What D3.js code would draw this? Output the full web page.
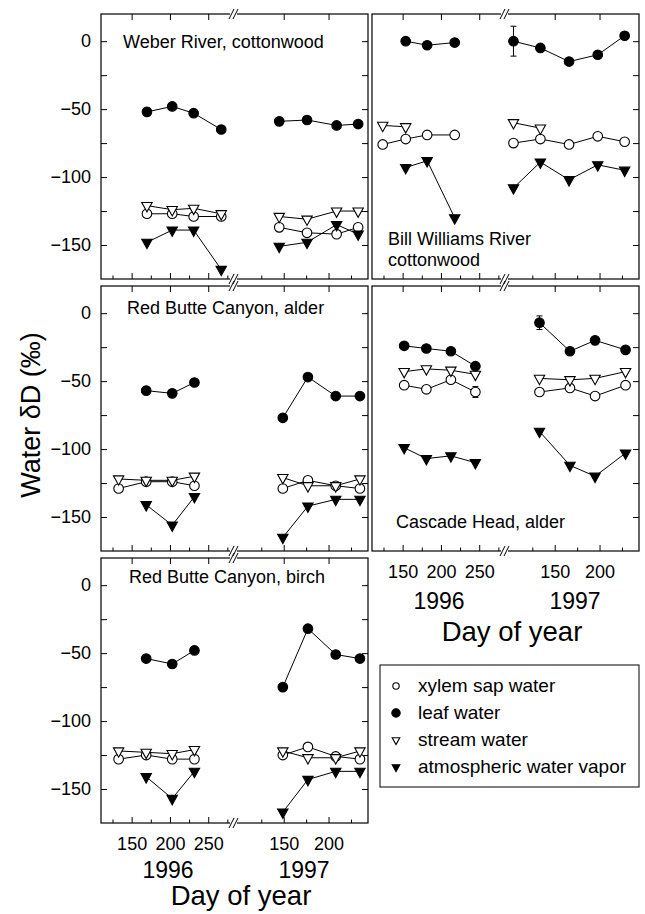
<!DOCTYPE html>
<html>
<head>
<meta charset="utf-8">
<script src="https://cdn.jsdelivr.net/npm/d3@7"></script>
<style>
  html, body { margin: 0; padding: 0; background: #fff; }
  svg { display: block; font-family: "Liberation Sans", Arial, Helvetica, sans-serif; }
</style>
</head>
<body>
<svg id="chart"></svg>
<script>
// water dD (per mil) by day of year
const seriesNames = ["xylem sap water", "leaf water", "stream water", "atmospheric water vapor"];
const yTicks = [0, -50, -100, -150];
const yMinor = [-25, -75, -125];
const xTicks96 = [150, 200, 250];
const xMinor96 = [125, 175, 225, 275];
const xTicks97 = [150, 200];
const xMinor97 = [125, 175, 225];
const yearLabels = ["1996", "1997"];

// Weber River, cottonwood
const weberDays96 = [170, 203, 231, 267];
const weberXylem96 = [-127, -127, -129, -129];
const weberLeaf96 = [-52, -48, -53, -65];
const weberStream96 = [-121, -124, -123, -127];
const weberVapor96 = [-148, -139, -139, -168];
const weberDays97 = [145, 176, 209, 233];
const weberXylem97 = [-137, -141, -142, -137];
const weberLeaf97 = [-59, -58, -62, -61];
const weberStream97 = [-129, -131, -125, -125];
const weberVapor97 = [-151, -148, -135, -142];

// Bill Williams River, cottonwood
const billDays96 = [124, 154, 182, 218];
const billXylem96 = [-76, -72, -69, -69];
const billLeaf96 = [null, 0, -3, -1];
const billStream96 = [-62, -63, null, null];
const billVapor96 = [null, -93, -88, -130];
const billDays97 = [104, 134, 166, 198, 228];
const billXylem97 = [-75, -72, -76, -70, -74];
const billLeaf97 = [0, -5, -15, -10, 4];
const billLeafErr97 = [11, null, null, null, null];
const billStream97 = [-60, -64, null, null, null];
const billVapor97 = [-108, -89, -102, -91, -95];

// Red Butte Canyon, alder
const alderDays96 = [133, 169, 203, 232];
const alderXylem96 = [-129, -124, -124, -127];
const alderLeaf96 = [null, -57, -59, -51];
const alderStream96 = [-122, -123, -123, -120];
const alderVapor96 = [null, -141, -156, -135];
const alderDays97 = [149, 177, 208, 235];
const alderXylem97 = [-129, -123, -127, -129];
const alderLeaf97 = [-77, -47, -61, -61];
const alderStream97 = [-121, -127, -127, -122];
const alderVapor97 = [-165, -142, -137, -137];

// Cascade Head, alder
const cascDays96 = [152, 181, 213, 245];
const cascXylem96 = [-53, -56, -49, -58];
const cascXylemErr96 = [null, null, null, 4];
const cascLeaf96 = [-24, -26, -28, -39];
const cascStream96 = [-43, -41, -42, -45];
const cascVapor96 = [-99, -107, -105, -110];
const cascDays97 = [133, 167, 195, 229];
const cascXylem97 = [-58, -55, -61, -53];
const cascLeaf97 = [-7, -28, -20, -27];
const cascLeafErr97 = [5, null, null, null];
const cascStream97 = [-48, -49, -48, -43];
const cascVapor97 = [-87, -112, -120, -103];

// Red Butte Canyon, birch
const birchDays96 = [133, 169, 203, 232];
const birchXylem96 = [-128, -125, -128, -128];
const birchLeaf96 = [null, -54, -58, -48];
const birchStream96 = [-122, -123, -124, -121];
const birchVapor96 = [null, -141, -157, -137];
const birchDays97 = [149, 177, 208, 235];
const birchXylem97 = [-125, -119, -126, -128];
const birchLeaf97 = [-75, -32, -51, -54];
const birchStream97 = [-122, -127, -127, -122];
const birchVapor97 = [-167, -143, -137, -137];

// ---- layout ----
const W = 267, H = 265;
const colX = [101, 372];
const rowY = [14, 286, 558];
const brk = 132.5;

const y = d3.scaleLinear().domain([-175, 20]).range([H, 0]);
const x96 = d3.scaleLinear().domain([110, 283]).range([0, brk]);
const x97 = d3.scaleLinear().domain([94, 244]).range([brk, W]);

function seg(days, xylem, leaf, stream, vapor, err) {
  return { days, series: { xylem, leaf, stream, vapor }, err: err || {} };
}

const panels = [
  { col: 0, row: 0, title: ["Weber River, cottonwood"], tx: 22, ty: 34,
    s96: seg(weberDays96, weberXylem96, weberLeaf96, weberStream96, weberVapor96),
    s97: seg(weberDays97, weberXylem97, weberLeaf97, weberStream97, weberVapor97) },
  { col: 1, row: 0, title: ["Bill Williams River", "cottonwood"], tx: 16, ty: 231,
    s96: seg(billDays96, billXylem96, billLeaf96, billStream96, billVapor96),
    s97: seg(billDays97, billXylem97, billLeaf97, billStream97, billVapor97, { leaf: billLeafErr97 }) },
  { col: 0, row: 1, title: ["Red Butte Canyon, alder"], tx: 26, ty: 28,
    s96: seg(alderDays96, alderXylem96, alderLeaf96, alderStream96, alderVapor96),
    s97: seg(alderDays97, alderXylem97, alderLeaf97, alderStream97, alderVapor97) },
  { col: 1, row: 1, title: ["Cascade Head, alder"], tx: 24, ty: 242, xlab: true, yearDy: 57.5, dayDy: 90,
    s96: seg(cascDays96, cascXylem96, cascLeaf96, cascStream96, cascVapor96, { xylem: cascXylemErr96 }),
    s97: seg(cascDays97, cascXylem97, cascLeaf97, cascStream97, cascVapor97, { leaf: cascLeafErr97 }) },
  { col: 0, row: 2, title: ["Red Butte Canyon, birch"], tx: 28, ty: 25, xlab: true, yearDy: 55, dayDy: 82,
    s96: seg(birchDays96, birchXylem96, birchLeaf96, birchStream96, birchVapor96),
    s97: seg(birchDays97, birchXylem97, birchLeaf97, birchStream97, birchVapor97) }
];

const style = {
  xylem: { shape: "circle", fill: "#fff" },
  leaf: { shape: "circle", fill: "#000" },
  stream: { shape: "tri", fill: "#fff" },
  vapor: { shape: "tri", fill: "#000" }
};
const drawOrder = ["xylem", "stream", "leaf", "vapor"];

function triPath(hw) {
  const h = hw * 1.8;
  return `M${-hw},${-h / 3}L${hw},${-h / 3}L0,${2 * h / 3}Z`;
}

function drawMarker(g, key, cx, cy, big) {
  const st = style[key];
  if (st.shape === "circle") {
    const r = big ? 4.8 : (st.fill === "#000" ? 4.2 : 3.2);
    g.append("circle").attr("cx", cx).attr("cy", cy).attr("r", r)
      .attr("fill", st.fill).attr("stroke", "#000").attr("stroke-width", 1.1);
  } else {
    g.append("path").attr("d", triPath(big ? 5.2 : 3.8))
      .attr("transform", `translate(${cx},${cy})`)
      .attr("fill", st.fill).attr("stroke", "#000").attr("stroke-width", 1.1);
  }
}

const svg = d3.select("#chart").attr("width", 645).attr("height", 914);
svg.append("rect").attr("width", 645).attr("height", 914).attr("fill", "#fff");

function tickAxis(g, axis) {
  g.call(axis);
  g.select(".domain").remove();
  g.selectAll(".tick line").attr("stroke", "#000").attr("stroke-width", 1);
  g.selectAll("text").attr("font-family", null).attr("font-size", 18).attr("fill", "#000");
  return g;
}

function breakMark(g, bx, by) {
  g.append("rect").attr("x", bx - 3.5).attr("y", by - 1.5).attr("width", 7).attr("height", 3).attr("fill", "#fff");
  [-2, 2].forEach(dx => {
    g.append("line")
      .attr("x1", bx + dx - 2.5).attr("y1", by + 5)
      .attr("x2", bx + dx + 2.5).attr("y2", by - 5)
      .attr("stroke", "#000").attr("stroke-width", 1);
  });
}

panels.forEach(p => {
  const g = svg.append("g").attr("transform", `translate(${colX[p.col]},${rowY[p.row]})`);

  // y ticks: left (with labels) on left column, right side on all
  if (p.col === 0) {
    tickAxis(g.append("g"), d3.axisLeft(y).tickValues(yTicks).tickSize(-6).tickPadding(10).tickFormat(d3.format("d")));
    tickAxis(g.append("g"), d3.axisLeft(y).tickValues(yMinor).tickSize(-6).tickFormat(""));
  }
  tickAxis(g.append("g").attr("transform", `translate(${W},0)`),
    d3.axisRight(y).tickValues(yTicks.concat(yMinor)).tickSize(-6).tickFormat(""));

  // x ticks, bottom: majors + minors, top: majors
  [[x96, xTicks96, xMinor96], [x97, xTicks97, xMinor97]].forEach(([xs, maj, min]) => {
    const bottom = g.append("g").attr("transform", `translate(0,${H})`);
    tickAxis(bottom, d3.axisBottom(xs).tickValues(maj).tickSize(-6).tickPadding(14)
      .tickFormat(p.xlab ? d3.format("d") : ""));
    tickAxis(g.append("g").attr("transform", `translate(0,${H})`),
      d3.axisBottom(xs).tickValues(min).tickSize(-3.5).tickFormat(""));
    tickAxis(g.append("g"), d3.axisTop(xs).tickValues(maj).tickSize(-6).tickFormat(""));
  });

  // frame
  g.append("rect").attr("width", W).attr("height", H)
    .attr("fill", "none").attr("stroke", "#000").attr("stroke-width", 1.2);
  breakMark(g, brk, 0);
  breakMark(g, brk, H);

  // series
  [[p.s96, x96], [p.s97, x97]].forEach(([s, xs]) => {
    const line = d3.line()
      .defined(d => d.v != null)
      .x(d => xs(d.day)).y(d => y(d.v));
    drawOrder.forEach(key => {
      const pts = s.days.map((day, i) => ({ day, v: s.series[key][i] })).filter(d => d.v != null);
      g.append("path").datum(pts).attr("d", line)
        .attr("fill", "none").attr("stroke", "#000").attr("stroke-width", 1);
    });
    Object.keys(s.err).forEach(key => {
      s.err[key].forEach((e, i) => {
        if (e == null) return;
        const cx = xs(s.days[i]), v = s.series[key][i];
        g.append("line").attr("x1", cx).attr("x2", cx).attr("y1", y(v + e)).attr("y2", y(v - e))
          .attr("stroke", "#000").attr("stroke-width", 1);
        [v + e, v - e].forEach(ev => g.append("line")
          .attr("x1", cx - 3).attr("x2", cx + 3).attr("y1", y(ev)).attr("y2", y(ev))
          .attr("stroke", "#000").attr("stroke-width", 1));
      });
    });
    drawOrder.forEach(key => {
      s.days.forEach((day, i) => {
        const v = s.series[key][i];
        if (v != null) drawMarker(g, key, xs(day), y(v), true);
      });
    });
  });

  // title
  const t = g.append("text").attr("x", p.tx).attr("y", p.ty).attr("font-size", 18).attr("fill", "#000");
  p.title.forEach((line, i) => t.append("tspan").attr("x", p.tx).attr("dy", i === 0 ? 0 : 20.5).text(line));

  if (p.xlab) {
    g.append("text").attr("x", 67).attr("y", H + p.yearDy).attr("text-anchor", "middle")
      .attr("font-size", 23).text(yearLabels[0]);
    g.append("text").attr("x", 203).attr("y", H + p.yearDy).attr("text-anchor", "middle")
      .attr("font-size", 23).text(yearLabels[1]);
    g.append("text").attr("x", 140).attr("y", H + p.dayDy).attr("text-anchor", "middle")
      .attr("font-size", 27.5).text("Day of year");
  }
});

// y title
svg.append("text").attr("transform", "translate(40,415) rotate(-90)")
  .attr("text-anchor", "middle").attr("font-size", 27).text("Water \u03b4D (\u2030)");

// legend
const lg = svg.append("g");
lg.append("rect").attr("x", 380).attr("y", 665).attr("width", 259).attr("height", 122)
  .attr("fill", "#fff").attr("stroke", "#000").attr("stroke-width", 1);
const legendKeys = ["xylem", "leaf", "stream", "vapor"];
const legendBase = [692, 719, 746, 773];
legendKeys.forEach((key, i) => {
  drawMarker(lg, key, 396, legendBase[i] - 6, false);
  lg.append("text").attr("x", 418).attr("y", legendBase[i]).attr("font-size", 19).text(seriesNames[i]);
});
</script>
</body>
</html>
